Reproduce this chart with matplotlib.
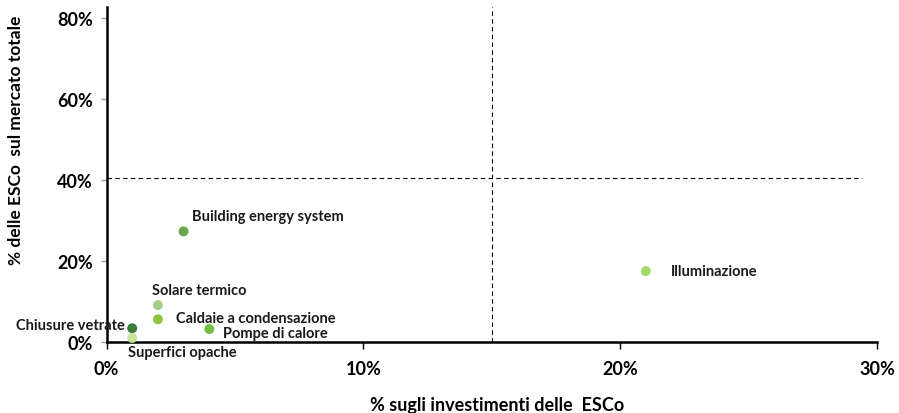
import matplotlib.pyplot as plt
from matplotlib.ticker import FuncFormatter

plt.rcParams['font.family'] = ['Lato', 'DejaVu Sans']

# Dati del grafico
voci = ['Building energy system', 'Illuminazione', 'Solare termico',
        'Caldaie a condensazione', 'Pompe di calore', 'Chiusure vetrate',
        'Superfici opache']
investimenti = [3.0, 21.0, 2.0, 2.0, 4.0, 1.0, 1.0]
mercato = [27.3, 17.5, 9.1, 5.6, 3.2, 3.4, 1.0]
colori = ['#6aa84f', '#a6d86a', '#a3cf8c', '#8cc63f', '#7abd43', '#3c7d3e', '#c6e39c']

soglia_x = 15
soglia_y = 40.5

# offset etichette (punti) e allineamento
offset = [(6, 11, 'left'), (18, 0, 'left'), (-4, 11, 'left'), (13, 1, 'left'),
          (10, -3, 'left'), (-5, 2, 'right'), (-3, -10, 'left')]

fig = plt.figure(figsize=(8.99, 4.14), dpi=100)
ax = fig.add_axes([0.1185, 0.1715, 0.857, 0.8095])

ax.axvline(soglia_x, color='black', linestyle=(0, (4, 3)), linewidth=0.8)
ax.plot([0, 29.4], [soglia_y, soglia_y], color='black', linestyle=(0, (4, 3)), linewidth=0.8)

ax.scatter(investimenti, mercato, c=colori, s=38, zorder=3, clip_on=False)

for nome, x, y, (dx, dy, ha) in zip(voci, investimenti, mercato, offset):
    ax.annotate(nome, (x, y), xytext=(dx, dy), textcoords='offset points',
                ha=ha, va='center', fontsize=10.5, fontweight='bold', color='#1a1a1a')

ax.set_xlim(0, 30)
ax.set_ylim(0, 82.7)
ax.set_xticks([0, 10, 20, 30])
ax.set_yticks([0, 20, 40, 60, 80])
fmt = FuncFormatter(lambda v, p: f'{v:.0f}%')
ax.xaxis.set_major_formatter(fmt)
ax.yaxis.set_major_formatter(fmt)

for s in ['top', 'right']:
    ax.spines[s].set_visible(False)
for s in ['left', 'bottom']:
    ax.spines[s].set_linewidth(1.8)

ax.tick_params(axis='x', direction='out', length=5, width=1, pad=8, labelsize=13)
ax.tick_params(axis='y', direction='out', length=4, width=1, color='#999999', pad=6, labelsize=13)
for lab in ax.get_xticklabels() + ax.get_yticklabels():
    lab.set_fontweight('bold')

ax.set_xlabel('% sugli investimenti delle  ESCo', fontsize=13, fontweight='bold')
ax.set_ylabel('% delle ESCo  sul mercato totale', fontsize=12.5, fontweight='bold')
ax.xaxis.set_label_coords(0.507, -0.16)
ax.yaxis.set_label_coords(-0.107, 0.605)

fig.savefig('out.png', dpi=100)
